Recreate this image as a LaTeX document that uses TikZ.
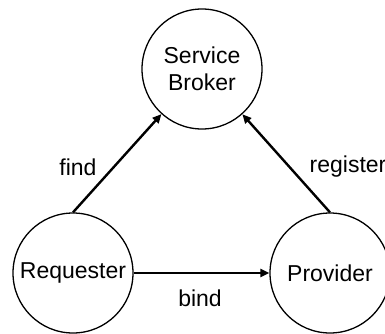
\documentclass[tikz,border=0pt]{standalone}
\usepackage{fontspec}
\setmainfont{Liberation Sans}
\usetikzlibrary{arrows.meta}
\begin{document}
\begin{tikzpicture}[x=1pt,y=-1pt,
 state/.style={circle,draw,line width=1.3pt,minimum size=120pt,inner sep=0pt,font=\fontsize{23}{27}\selectfont,align=center},
 conn/.style={line width=2.4pt,-{Triangle[length=9pt,width=8pt]}},
 lbl/.style={font=\fontsize{23}{27}\selectfont}]
\useasboundingbox (0,0) rectangle (385,333);
\node[state] (broker) at (202,69) {Service\\Broker};
\node[state] (req) at (73,273) {Requester};
\node[state] (prov) at (330,273) {Provider};
\draw[conn] (req.north) -- (broker);
\draw[conn] (prov.north) -- (broker);
\draw[conn] (req) -- (prov);
\node[lbl] (lfind) at (78,167) {find};
\node[lbl] (lreg) at (348,167) {register};
\node[lbl] (lbind) at (200,298) {bind};
\end{tikzpicture}
\end{document}
